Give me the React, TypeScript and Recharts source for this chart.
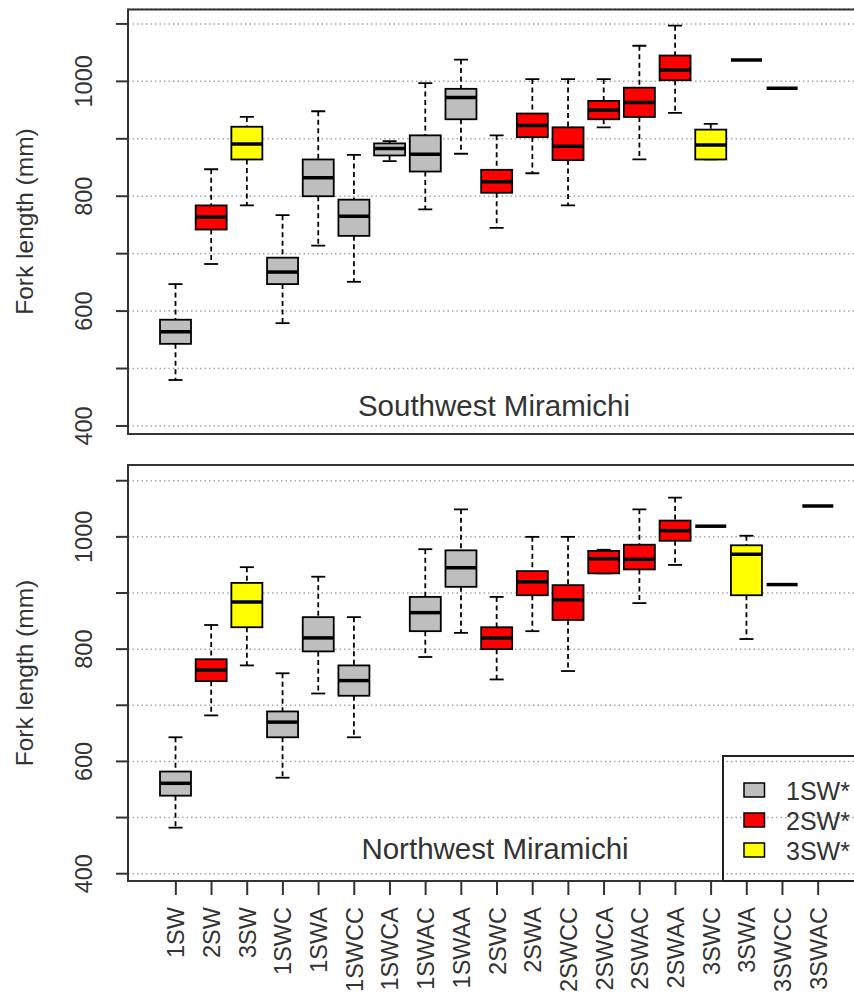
import React from "react";
import { ComposedChart, Bar, XAxis, YAxis, CartesianGrid } from "recharts";

// sea-age / spawning history groups, left to right
const categories = [
  "1SW", "2SW", "3SW", "1SWC", "1SWA", "1SWCC", "1SWCA", "1SWAC", "1SWAA",
  "2SWC", "2SWA", "2SWCC", "2SWCA", "2SWAC", "2SWAA", "3SWC", "3SWA", "3SWCC", "3SWAC",
];

// Southwest Miramichi (fork length, mm)
const swLow = [480, 682, 784, 579, 714, 651, 861, 777, 874, 745, 840, 784, 920, 864, 945, 864, 1037, 988, null];
const swQ1 = [543, 742, 864, 647, 800, 731, 871, 843, 934, 806, 903, 863, 934, 938, 1002, 864, 1037, 988, null];
const swMed = [564, 764, 891, 668, 832, 765, 883, 873, 972, 825, 923, 887, 950, 963, 1020, 889, 1037, 988, null];
const swQ3 = [585, 784, 921, 693, 864, 794, 892, 906, 987, 846, 944, 920, 966, 989, 1045, 916, 1037, 988, null];
const swHigh = [647, 847, 938, 767, 948, 872, 896, 997, 1038, 906, 1004, 1004, 1004, 1062, 1097, 926, 1037, 988, null];

// Northwest Miramichi (fork length, mm)
const nwLow = [482, 682, 771, 571, 721, 643, null, 786, 829, 746, 832, 761, 935, 882, 950, 1019, 818, 915, 1055];
const nwQ1 = [539, 743, 839, 643, 796, 717, null, 832, 911, 800, 896, 852, 935, 942, 993, 1019, 896, 915, 1055];
const nwMed = [561, 763, 884, 670, 820, 744, null, 865, 945, 820, 920, 888, 961, 960, 1011, 1019, 969, 915, 1055];
const nwQ3 = [582, 782, 918, 689, 857, 771, null, 893, 976, 839, 939, 914, 975, 986, 1029, 1019, 985, 915, 1055];
const nwHigh = [643, 843, 946, 757, 929, 857, null, 978, 1049, 893, 1000, 1000, 977, 1049, 1070, 1019, 1002, 915, 1055];

const yTicks = [400, 500, 600, 700, 800, 900, 1000, 1100];
const yLabeled = [400, 600, 800, 1000];

const legendLabels = ["1SW*", "2SW*", "3SW*"];
const GROUP_COLORS: Record<string, string> = {
  "1SW": "#bebebe",
  "2SW": "#ff0000",
  "3SW": "#ffff00",
};

const FONT = "'Liberation Sans', Arial, sans-serif";
const TEXT = "#333";

type Row = {
  cat: string;
  range: [number, number] | null;
  q1: number | null;
  med: number | null;
  q3: number | null;
};

const buildRows = (
  low: (number | null)[],
  q1: (number | null)[],
  med: (number | null)[],
  q3: (number | null)[],
  high: (number | null)[]
): Row[] =>
  categories.map((cat, i) => ({
    cat,
    range: low[i] == null ? null : [low[i] as number, high[i] as number],
    q1: q1[i],
    med: med[i],
    q3: q3[i],
  }));

const swData = buildRows(swLow, swQ1, swMed, swQ3, swHigh);
const nwData = buildRows(nwLow, nwQ1, nwMed, nwQ3, nwHigh);

// the bar spans low..high whisker; the rest is placed on the same linear scale
const BoxShape = (props: any) => {
  const { x, y, width, height, payload } = props;
  if (!payload || !payload.range) return null;
  const [lo, hi] = payload.range;
  const top = Math.min(y, y + height);
  const bot = Math.max(y, y + height);
  const cx = x + width / 2;
  const color = GROUP_COLORS[payload.cat.slice(0, 3)];
  if (hi === lo || bot - top < 0.5) {
    return (
      <line x1={x} x2={x + width} y1={top} y2={top} stroke="#000" strokeWidth={3.5} />
    );
  }
  const k = (bot - top) / (hi - lo);
  const py = (v: number) => top + (hi - v) * k;
  const capW = 7;
  return (
    <g>
      <line x1={cx} x2={cx} y1={py(hi)} y2={py(payload.q3)} stroke="#000" strokeWidth={1.8} strokeDasharray="5 3.5" />
      <line x1={cx} x2={cx} y1={py(payload.q1)} y2={py(lo)} stroke="#000" strokeWidth={1.8} strokeDasharray="5 3.5" />
      <line x1={cx - capW} x2={cx + capW} y1={py(hi)} y2={py(hi)} stroke="#000" strokeWidth={1.8} />
      <line x1={cx - capW} x2={cx + capW} y1={py(lo)} y2={py(lo)} stroke="#000" strokeWidth={1.8} />
      <rect
        x={x}
        y={py(payload.q3)}
        width={width}
        height={py(payload.q1) - py(payload.q3)}
        fill={color}
        stroke="#000"
        strokeWidth={1.8}
      />
      <line x1={x} x2={x + width} y1={py(payload.med)} y2={py(payload.med)} stroke="#000" strokeWidth={3.5} />
    </g>
  );
};

const YTick = ({ x, y, payload }: any) => {
  if (!yLabeled.includes(payload.value)) return null;
  return (
    <text
      x={x}
      y={y}
      transform={`rotate(-90, ${x}, ${y})`}
      textAnchor="middle"
      fontSize={23.5}
      fontFamily={FONT}
      fill={TEXT}
    >
      {payload.value}
    </text>
  );
};

const XTick = ({ x, y, payload }: any) => (
  <text
    x={x + 8.5}
    y={y}
    transform={`rotate(-90, ${x + 8.5}, ${y})`}
    textAnchor="end"
    fontSize={23.5}
    fontFamily={FONT}
    fill={TEXT}
  >
    {payload.value}
  </text>
);

function Panel({
  data,
  domain,
  height,
  marginTop,
  showX,
}: {
  data: Row[];
  domain: [number, number];
  height: number;
  marginTop: number;
  showX: boolean;
}) {
  return (
    <ComposedChart
      width={880}
      height={height}
      data={data}
      margin={{ top: marginTop, right: 17, bottom: showX ? 0 : 16, left: 0 }}
    >
      <CartesianGrid
        vertical={false}
        stroke="#a8a8a8"
        strokeWidth={1.5}
        strokeDasharray="1.5 3"
      />
      <XAxis
        dataKey="cat"
        type="category"
        hide={!showX}
        height={123}
        interval={0}
        padding={{ left: 30, right: 27 }}
        axisLine={false}
        tickSize={14}
        tickMargin={12}
        tickLine={{ stroke: "#333", strokeWidth: 2 }}
        tick={<XTick />}
      />
      <YAxis
        type="number"
        domain={domain}
        ticks={yTicks}
        width={128}
        axisLine={false}
        tickSize={12}
        tickMargin={24}
        tickLine={{ stroke: "#333", strokeWidth: 2 }}
        tick={<YTick />}
        allowDataOverflow
      />
      <Bar dataKey="range" barSize={31} shape={<BoxShape />} isAnimationActive={false} />
    </ComposedChart>
  );
}

export default function App() {
  const legendY = [790, 820, 850];
  return (
    <div
      style={{
        position: "relative",
        width: 854,
        height: 1004,
        overflow: "hidden",
        background: "#fff",
        fontFamily: FONT,
      }}
    >
      <style>{"body{margin:0}"}</style>
      <div style={{ position: "absolute", left: 0, top: 0 }}>
        <Panel data={swData} domain={[386, 1126]} height={450} marginTop={9} showX={false} />
      </div>
      <div style={{ position: "absolute", left: 0, top: 450 }}>
        <Panel data={nwData} domain={[387, 1128]} height={554} marginTop={15} showX />
      </div>
      <svg
        width={854}
        height={1004}
        style={{ position: "absolute", left: 0, top: 0, pointerEvents: "none" }}
      >
        <rect x={128} y={9.5} width={735} height={424.5} fill="none" stroke="#333" strokeWidth={2} />
        <rect x={128} y={465} width={735} height={416} fill="none" stroke="#333" strokeWidth={2} />
        <text x={33} y={221.5} transform="rotate(-90, 33, 221.5)" textAnchor="middle" fontSize={24.5} fill={TEXT}>
          Fork length (mm)
        </text>
        <text x={33} y={673} transform="rotate(-90, 33, 673)" textAnchor="middle" fontSize={24.5} fill={TEXT}>
          Fork length (mm)
        </text>
        <text x={494} y={416} textAnchor="middle" fontSize={29.5} fill={TEXT}>
          Southwest Miramichi
        </text>
        <text x={495} y={859} textAnchor="middle" fontSize={29.5} fill={TEXT}>
          Northwest Miramichi
        </text>
        <rect x={723} y={756} width={200} height={125} fill="none" stroke="#222" strokeWidth={2} />
        {legendLabels.map((lab, i) => (
          <g key={lab}>
            <rect
              x={744}
              y={legendY[i] - 7}
              width={20.5}
              height={14}
              fill={GROUP_COLORS[lab.slice(0, 3)]}
              stroke="#000"
              strokeWidth={1.5}
            />
            <text x={786} y={legendY[i] + 10} fontSize={25} fill={TEXT}>
              {lab}
            </text>
          </g>
        ))}
      </svg>
    </div>
  );
}
